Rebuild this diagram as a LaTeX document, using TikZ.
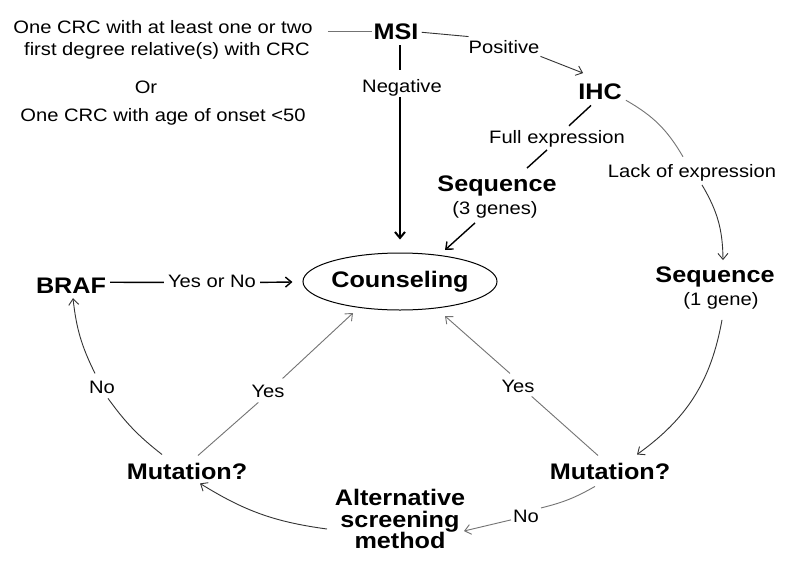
\documentclass[tikz,border=0pt]{standalone}
\usepackage{fontspec}
\setmainfont{Liberation Sans}[FakeStretch=1.12]
\usetikzlibrary{arrows.meta,shapes.geometric}
\begin{document}
\begin{tikzpicture}[x=1pt,y=-1pt,
  lab/.style={inner sep=0pt, anchor=base, font=\fontsize{18}{20}\selectfont},
  hd/.style={inner sep=0pt, anchor=base, font=\fontsize{22.5}{20}\selectfont\bfseries},
  gl/.style={draw=black!55, line width=0.9pt},
  dl/.style={draw=black!80, line width=0.9pt},
  bl/.style={draw=black, line width=1.4pt},
  tk/.style={draw=black, line width=2pt},
  >={Straight Barb[length=6pt,width=10pt]}]
\useasboundingbox[fill=white] (0,0) rectangle (785,563);

% left criteria text
\node[lab] (c1) at (163,33) {One CRC with at least one or two};
\node[lab] (c2) at (167,55) {first degree relative(s) with CRC};
\node[lab] (c3) at (146,93) {Or};
\node[lab] (c4) at (163,121) {One CRC with age of onset <50};

% main nodes
\node[hd] (MSI) at (396,39) {MSI};
\node[lab] (pos) at (504,53) {Positive};
\node[lab] (neg) at (402,92) {Negative};
\node[hd] (IHC) at (600,99) {IHC};
\node[lab] (full) at (557,143) {Full expression};
\node[hd] (seq3) at (497,191) {Sequence};
\node[lab] (g3) at (495,214) {(3 genes)};
\node[lab] (lack) at (692,177) {Lack of expression};
\node[hd] (seq1) at (715,282) {Sequence};
\node[lab] (g1) at (721,305) {(1 gene)};
\node[draw, ellipse, line width=1pt, inner sep=0pt, minimum width=170pt, minimum height=57pt,
      font=\fontsize{22.5}{20}\selectfont\bfseries] (C) at (400,281.5) {Counseling};
\node[hd] (BRAF) at (71,293) {BRAF};
\node[lab] (yn) at (212,287) {Yes or No};
\node[hd] (mutL) at (187,479) {Mutation?};
\node[hd] (mutR) at (610,479) {Mutation?};
\node[lab] (yesL) at (268,397) {Yes};
\node[lab] (yesR) at (518,392) {Yes};
\node[lab] (noL) at (102,393) {No};
\node[lab] (noB) at (526,522) {No};
\node[hd, align=center, anchor=center, font=\fontsize{22.5}{21.5}\selectfont\bfseries] (alt) at (400,519) {Alternative\\screening\\method};

% connectors
\draw[gl] ([xshift=15pt]c1.east |- MSI.east) -- ([shift={(-1,0)}]MSI.west);
\draw[dl] ([shift={(3,1)}]MSI.east) -- ([shift={(0,-10)}]pos.west);
\draw[dl,->] ([shift={(1,3)}]pos.south east) -- ([shift={(5,-10)}]IHC.north west);

\draw[tk] ([shift={(4,6)}]MSI.south) -- ([shift={(-2,-9)}]neg.north);
\draw[tk,->] ([shift={(-2,1)}]neg.south) -- ([shift={(0,-13)}]C.north);

\draw[bl] ([shift={(-9,6)}]IHC.south) -- ([shift={(12,-4)}]full.north);
\draw[bl] ([shift={(-10,3)}]full.south) -- ([shift={(30,-7)}]seq3.north);
\draw[bl,->] ([shift={(-20,5)}]g3.south) -- ([shift={(45,-31.5)}]C.center);

\draw[gl] ([shift={(4,9)}]IHC.east) to[bend left=15] ([shift={(-9,-7)}]lack.north);
\draw[dl,->] ([shift={(10,4)}]lack.south) to[bend left=15] ([shift={(8,-6)}]seq1.north);
\draw[dl,->] ([shift={(1,11)}]g1.south) to[bend left=22] ([shift={(27,-8)}]mutR.north);

\draw[gl] ([shift={(-12,-7)}]mutR.north) -- ([shift={(-3,4)}]yesR.south east);
\draw[gl,->] ([shift={(-8,-6)}]yesR.north) -- ([shift={(45,34.5)}]C.center);

\draw[gl] ([shift={(-15,7)}]mutR.south) to[bend left=8] ([shift={(2,-8)}]noB.east);
\draw[gl,->] ([shift={(-2,4)}]noB.west) -- ([shift={(64,12)}]alt.center);

\draw[dl,->] ([shift={(-73,10)}]alt.center) to[bend left=12] ([shift={(13,4)}]mutL.south);

\draw[gl] ([shift={(11,-7)}]mutL.north) -- ([shift={(7,5)}]yesL.south west);
\draw[gl,->] ([shift={(-2,-6)}]yesL.north east) -- ([shift={(-47,31.5)}]C.center);

\draw[dl] ([shift={(-25,-8)}]mutL.north) to[bend left=8] ([shift={(6,5)}]noL.south);
\draw[dl,->] ([shift={(-7,-7)}]noL.north) to[bend left=10] ([shift={(2,5)}]BRAF.south);

\draw[bl] ([shift={(4,-3)}]BRAF.east) -- ([shift={(-4,1.5)}]yn.west);
\draw[bl,->] ([shift={(4,1.5)}]yn.east) -- ([shift={(-10,0.5)}]C.west);
\end{tikzpicture}
\end{document}
